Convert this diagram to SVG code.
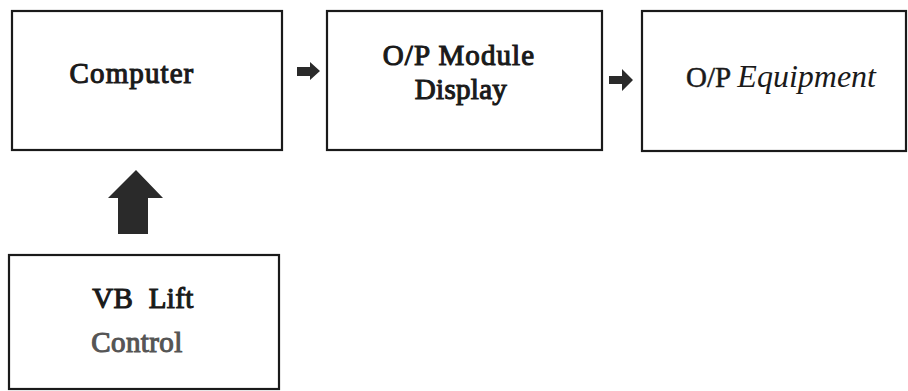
<svg xmlns="http://www.w3.org/2000/svg" width="908" height="391" viewBox="0 0 908 391">
<style>
.box{fill:#fff;stroke:#1a1a1a;stroke-width:2.2}
text{font-family:'Liberation Serif','Times New Roman',serif;font-size:29px;fill:#1a1a1a;text-anchor:middle}
.b{stroke:#1a1a1a;stroke-width:1.1;letter-spacing:1.1px}
.arr{fill:#2a2a2a;stroke:none}
</style>
<rect width="908" height="391" fill="#fff"/>
<g id="computer">
<rect class="box" x="12" y="11" width="270" height="139"/>
<text class="b" x="132" y="83">Computer</text>
</g>
<g id="op-module">
<rect class="box" x="327" y="11" width="275" height="139"/>
<text class="b" x="459" y="65">O/P Module</text>
<text class="b" x="461" y="99" style="letter-spacing:0.3px">Display</text>
</g>
<g id="op-equipment">
<rect class="box" x="642" y="11" width="264" height="140"/>
<text x="781" y="87"><tspan stroke="#1a1a1a" stroke-width="0.5">O/P </tspan><tspan font-style="italic" font-size="32">Equipment</tspan></text>
</g>
<g id="vb-lift">
<rect class="box" x="9" y="255" width="270" height="134"/>
<text class="b" x="143" y="308" xml:space="preserve" style="letter-spacing:0.4px">VB  Lift</text>
<text class="b" x="137" y="352" style="fill:#555;stroke:#555;letter-spacing:0.4px">Control</text>
</g>
<g id="connectors">
<path class="arr" d="M297,67 L310,67 L310,62 L320,71 L310,80 L310,76 L297,76 Z"/>
<path class="arr" d="M609,76 L622,76 L622,69 L633,80 L622,91 L622,84 L609,84 Z"/>
<path class="arr" d="M118,234 L118,198 L108,198 L136,170 L163,198 L148,198 L148,234 Z"/>
</g>
</svg>
